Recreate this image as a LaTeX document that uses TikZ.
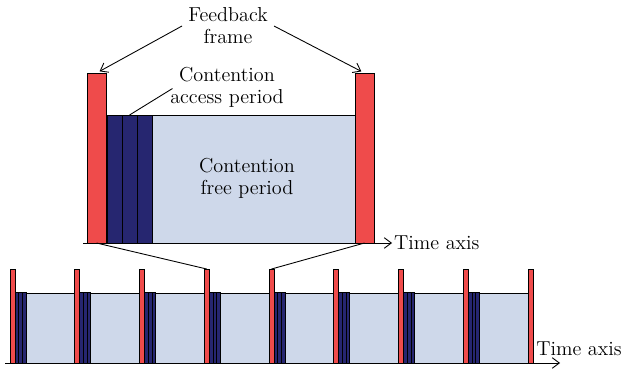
\documentclass[tikz,border=0pt]{standalone}
\usepackage{tikz}
\usetikzlibrary{arrows.meta}
\definecolor{framered}{RGB}{239,75,75}
\definecolor{capblue}{RGB}{38,38,112}
\definecolor{cfpblue}{RGB}{206,216,234}

\begin{document}
\begin{tikzpicture}[x=0.02cm, y=-0.02cm, line width=0.5pt,
        >={Straight Barb[length=4pt,width=6pt]},
        every node/.style={font=\fontsize{11.5}{12.5}\selectfont},
        fbar/.style={draw, rectangle, fill=framered, inner sep=0pt, outer sep=0pt, anchor=south west},
        capbar/.style={draw, rectangle, fill=capblue, inner sep=0pt, outer sep=0pt, anchor=south west},
        cfpbar/.style={draw, rectangle, fill=cfpblue, inner sep=0pt, outer sep=0pt, anchor=south west},
        txt/.style={align=center}]
        \useasboundingbox (0,0) rectangle (622,372);

        \foreach \j in {0,1,2}
            \node[capbar, minimum width=0.3cm, minimum height=2.56cm] (cap\j) at (107+15*\j,243) {};
        \node[cfpbar, minimum width=4.06cm, minimum height=2.56cm] (cfp) at (152,243) {};
        \node[fbar, minimum width=0.38cm, minimum height=3.4cm] (fbL) at (87,243) {};
        \node[fbar, minimum width=0.38cm, minimum height=3.4cm] (fbR) at (355,243) {};

        \node[txt] (cfptext) at (247,178) {Contention\\free period};
        \node[txt] (fbtext) at (228,26) {Feedback\\frame};
        \node[txt] (captext) at (227,87) {Contention\\access period};

        \coordinate (ax1s) at (83,243);
        \coordinate (ax1e) at (392,243);
        \draw[->] (ax1s) -- (ax1e);
        \node[txt, anchor=west, inner sep=1pt] (ax1label) at (ax1e) {Time axis};

        \draw[->, shorten >=2pt] (fbtext.west) -- (fbL.north);
        \draw[->, shorten >=2pt] (fbtext.east) -- (fbR.north);
        \draw ([xshift=0.17cm,yshift=-0.03cm]captext.west) -- (cap1.north);

        \foreach \i in {0,...,7} {
            \foreach \j in {0,1,2}
                \node[capbar, line width=0.3pt, minimum width=0.0733cm, minimum height=1.42cm] (bcap\i\j) at (15+64.75*\i+3.667*\j,363) {};
            \node[cfpbar, minimum width=0.975cm, minimum height=1.4cm] (bcfp\i) at (26+64.75*\i,363) {};
        }
        \foreach \i in {0,...,8}
            \node[fbar, minimum width=0.1cm, minimum height=1.88cm] (bf\i) at (10+64.75*\i,363) {};

        \coordinate (ax2s) at (5,363);
        \coordinate (ax2e) at (560,363);
        \draw[->] (ax2s) -- (ax2e);
        \node[txt, anchor=south west] (ax2label) at (530,362) {Time axis};

        \draw (fbL.south) -- (bf3.north);
        \draw (fbR.south) -- (bf4.north);
\end{tikzpicture}
\end{document}
